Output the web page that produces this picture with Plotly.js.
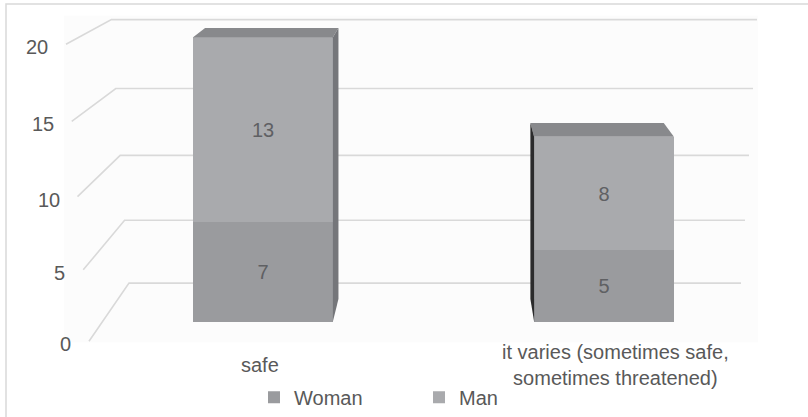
<!DOCTYPE html>
<html>
<head>
<meta charset="utf-8">
<script src="https://cdn.plot.ly/plotly-3.0.1.min.js"></script>
<style>
  html, body { margin: 0; padding: 0; background: #ffffff; }
  #chart { width: 808px; height: 417px; }
</style>
</head>
<body>
<div id="chart"></div>
<script>
// ---- data ----
const categories = ['safe', 'it varies (sometimes safe, sometimes threatened)'];
const categoryLabels = ['safe', 'it varies (sometimes safe,<br>sometimes threatened)'];
const seriesNames = ['Woman', 'Man'];
const womanValues = [7, 5];
const manValues = [13, 8];
const axisTicks = [0, 5, 10, 15, 20];

// ---- figure geometry (pixels) ----
const W = 808, H = 417;
const catPx0 = 263, catStep = 341;      // centre of first column, column spacing
const zeroPx = 327, unitPx = 14.45;     // baseline of the columns, pixels per unit
const xr0 = -catPx0 / catStep, xr1 = xr0 + W / catStep;
const yr0 = -(H - zeroPx) / unitPx, yr1 = yr0 + H / unitPx;
const barWidth = 0.41;

// one-point perspective used for the faux 3D faces
const VP = { x: 453.5, y: -168 };
const barDepth = 0.046;

const xToPx = x => (x - xr0) / (xr1 - xr0) * W;
const yToPx = y => H - (y - yr0) / (yr1 - yr0) * H;
const px = p => p / W;
const py = p => 1 - p / H;
const toward = (p, k) => ({ x: p.x + k * (VP.x - p.x), y: p.y + k * (VP.y - p.y) });
const pathOf = pts => 'M' + pts.map(p => px(p.x).toFixed(5) + ',' + py(p.y).toFixed(5)).join('L') + 'Z';

// back wall and its left edge (perspective)
const backY = v => (288 - 13.458 * v) / (1 - 0.0029 * v);
const frontY = v => (347 - 15.216 * v) / (1 - 0.00258 * v);
const backLeftX = v => 129 - 0.88 * v;
const backRightX = v => 741 + 0.8 * v;
const frontLeftX = v => 89 - 1.15 * v;

const gridColor = '#d9d9d9';
const textColor = '#595959';
const FONT = 'Liberation Sans, Arial, sans-serif';

const shapes = [];
const annotations = [];

// outer chart frame
shapes.push({ type: 'rect', xref: 'paper', yref: 'paper', layer: 'below',
  x0: px(6), x1: 1.2, y0: py(4), y1: -0.2,
  line: { color: gridColor, width: 1.5 }, fillcolor: 'rgba(0,0,0,0)' });
// faint wall panel
shapes.push({ type: 'rect', xref: 'paper', yref: 'paper', layer: 'below',
  x0: px(64), x1: px(758), y0: py(16), y1: py(348),
  line: { width: 0 }, fillcolor: '#fcfcfc' });

// gridlines: back wall segment plus the diagonal along the side wall
axisTicks.forEach(v => {
  const b = backY(v), f = frontY(v);
  shapes.push({ type: 'path', xref: 'paper', yref: 'paper', layer: 'below',
    path: 'M' + px(frontLeftX(v)) + ',' + py(f) + 'L' + px(backLeftX(v)) + ',' + py(b) +
          'L' + px(backRightX(v)) + ',' + py(b),
    line: { color: gridColor, width: 1.6 } });
  annotations.push({ xref: 'paper', yref: 'paper', x: px(frontLeftX(v) - 16), y: py(f + 3),
    xanchor: 'right', yanchor: 'middle', showarrow: false, text: String(v),
    font: { family: FONT, size: 20, color: textColor } });
});

// top and side faces of each stacked column
const topColor = '#88898c';
categories.forEach((c, i) => {
  const total = womanValues[i] + manValues[i];
  const xl = xToPx(i - barWidth / 2), xr = xToPx(i + barWidth / 2);
  const yt = yToPx(total), yb = yToPx(0);
  const fl = { x: xl, y: yt }, fr = { x: xr, y: yt };
  shapes.push({ type: 'path', xref: 'paper', yref: 'paper', layer: 'above',
    path: pathOf([fl, fr, toward(fr, barDepth), toward(fl, barDepth)]),
    fillcolor: topColor, line: { width: 0 } });
  if (VP.x > xr) {
    const a = { x: xr, y: yt }, d = { x: xr, y: yb };
    shapes.push({ type: 'path', xref: 'paper', yref: 'paper', layer: 'above',
      path: pathOf([a, toward(a, barDepth), toward(d, barDepth), d]),
      fillcolor: '#75767a', line: { width: 0 } });
  } else if (VP.x < xl) {
    const a = { x: xl, y: yt }, d = { x: xl, y: yb };
    shapes.push({ type: 'path', xref: 'paper', yref: 'paper', layer: 'above',
      path: pathOf([a, toward(a, barDepth), toward(d, barDepth), d]),
      fillcolor: '#2b2b2c', line: { width: 0 } });
  }
  // category label, placed on the front edge of the floor
  const cx = xToPx(i);
  const lx = cx + 0.04 * (cx - VP.x) + 5;
  annotations.push({ xref: 'paper', yref: 'paper', x: px(lx), y: py(371),
    xanchor: 'center', yanchor: 'middle', showarrow: false, align: 'center',
    text: categoryLabels[i], font: { family: FONT, size: 20, color: textColor } });
});

const barTrace = (name, values, color) => ({
  type: 'bar', name: name, x: categories, y: values, width: barWidth,
  marker: { color: color, line: { width: 0 } },
  text: values.map(String), textposition: 'inside', insidetextanchor: 'middle',
  textangle: 0, constraintext: 'none',
  textfont: { family: FONT, size: 20, color: '#5f6063' },
  hoverinfo: 'name+y'
});

const data = [
  barTrace(seriesNames[0], womanValues, '#9a9b9e'),
  barTrace(seriesNames[1], manValues, '#a9aaad')
];

const layout = {
  width: W, height: H,
  margin: { l: 0, r: 0, t: 0, b: 0 },
  paper_bgcolor: '#ffffff', plot_bgcolor: 'rgba(0,0,0,0)',
  barmode: 'stack', bargap: 0,
  xaxis: { type: 'category', range: [xr0, xr1], visible: false, fixedrange: true },
  yaxis: { range: [yr0, yr1], visible: false, fixedrange: true },
  showlegend: true,
  legend: { orientation: 'h', traceorder: 'normal', x: px(254), xanchor: 'left',
    y: py(404), yanchor: 'middle', bgcolor: 'rgba(0,0,0,0)',
    entrywidth: 120, entrywidthmode: 'pixels',
    font: { family: FONT, size: 20, color: textColor } },
  shapes: shapes,
  annotations: annotations,
  font: { family: FONT, color: textColor }
};

Plotly.newPlot('chart', data, layout, { displayModeBar: false, staticPlot: true });
</script>
</body>
</html>
